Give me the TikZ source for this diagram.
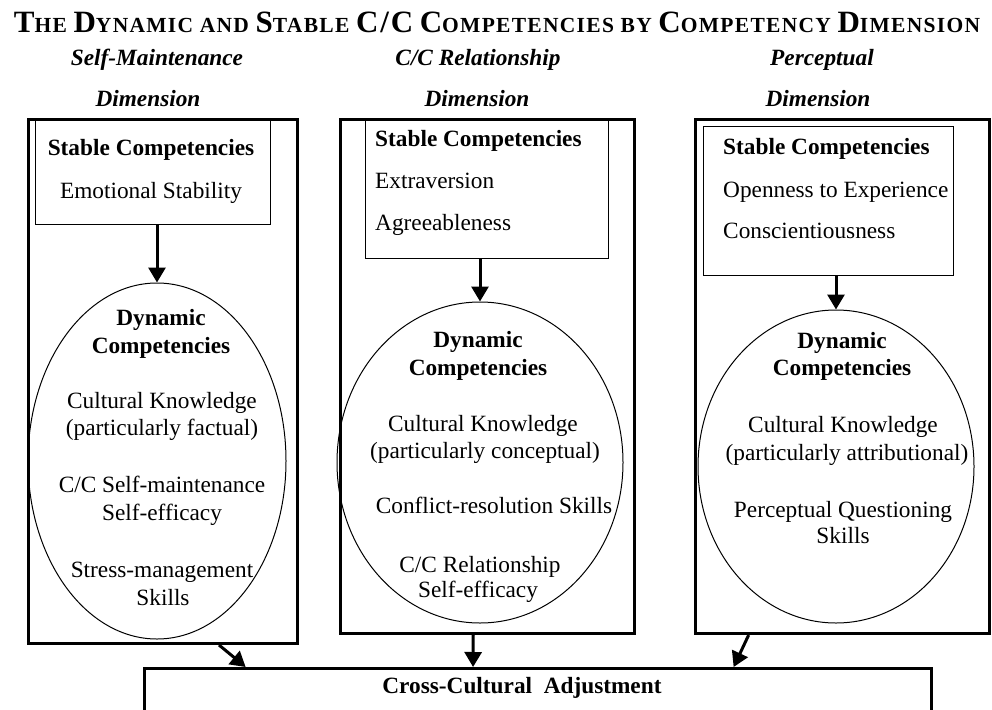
\documentclass[tikz,border=0pt]{standalone}
\usepackage{fontspec}
\setmainfont{Liberation Serif}
\usetikzlibrary{arrows.meta,shapes.geometric,calc}

% large initial capitals for the hand-made small-caps heading
\newcommand\headcap[1]{{\fontsize{31pt}{34pt}\selectfont #1}}

\tikzset{
  outerbox/.style={draw, line width=3pt, rectangle, inner sep=0pt, anchor=north west},
  stablebox/.style={draw, line width=1.3pt, rectangle, inner sep=0pt, anchor=north west},
  dynell/.style={draw, line width=1pt, ellipse, inner sep=0pt},
  adjbox/.style={draw, line width=2.6pt, rectangle, inner sep=0pt, anchor=north west},
  txt/.style={font=\fontsize{23.3pt}{28pt}\selectfont, inner sep=0pt, anchor=base},
  txtl/.style={txt, anchor=base west},
  bold/.style={txt, font=\fontsize{23.3pt}{28pt}\selectfont\bfseries},
  boldl/.style={bold, anchor=base west},
  head/.style={txt, font=\fontsize{23.3pt}{28pt}\selectfont\bfseries\itshape},
  arr/.style={line width=3pt, -{Triangle[length=15pt,width=17pt]}},
}

\begin{document}
\begin{tikzpicture}[x=1pt,y=-1pt]
\useasboundingbox (0,0) rectangle (992,709);
\clip (0,0) rectangle (992,709);

% heading
\node[txt, font=\fontsize{21.5pt}{24pt}\selectfont\bfseries\addfontfeature{LetterSpace=6}] (title) at (497,33)
  {\headcap{T}HE \headcap{D}YNAMIC AND \headcap{S}TABLE \headcap{C/C} \headcap{C}OMPETENCIES BY \headcap{C}OMPETENCY \headcap{D}IMENSION};

% column headings
\node[head] (hL1) at (157,65) {Self-Maintenance};
\node[head] (hL2) at (148,106) {Dimension};
\node[head] (hM1) at (478,65) {C/C Relationship};
\node[head] (hM2) at (477,106) {Dimension};
\node[head] (hR1) at (822,65) {Perceptual};
\node[head] (hR2) at (818,106) {Dimension};

% dimension frames
\node[outerbox, minimum width=269pt, minimum height=524pt] (oL) at (27,118) {};
\node[outerbox, minimum width=294pt, minimum height=514pt] (oM) at (339,118) {};
\node[outerbox, minimum width=294pt, minimum height=514pt] (oR) at (694,118) {};

% stable competencies
\node[stablebox, minimum width=235pt, minimum height=105pt] (sL) at (35,119) {};
\node[stablebox, minimum width=243pt, minimum height=140pt] (sM) at (365,118) {};
\node[stablebox, minimum width=250pt, minimum height=149pt] (sR) at (703,126) {};

\node[bold] (sL1) at (151,155) {Stable Competencies};
\node[txt]  (sL2) at (151,198) {Emotional Stability};

\node[boldl] (sM1) at (375,146) {Stable Competencies};
\node[txtl]  (sM2) at (375,188) {Extraversion};
\node[txtl]  (sM3) at (375,230) {Agreeableness};

\node[boldl] (sR1) at (723,154) {Stable Competencies};
\node[txtl]  (sR2) at (723,197) {Openness to Experience};
\node[txtl]  (sR3) at (723,238) {Conscientiousness};

% dynamic competencies
\node[dynell, minimum width=258pt, minimum height=356pt] (dL) at (157,461) {};
\node[dynell, minimum width=286pt, minimum height=321pt] (dM) at (480,462.5) {};
\node[dynell, minimum width=276pt, minimum height=313pt] (dR) at (836,466.5) {};

\node[bold] (dL1) at (161,325) {Dynamic};
\node[bold] (dL2) at (161,353) {Competencies};
\node[txt]  (dL3) at (162,408) {Cultural Knowledge};
\node[txt]  (dL4) at (162,435) {(particularly factual)};
\node[txt]  (dL5) at (162,492) {C/C Self-maintenance};
\node[txt]  (dL6) at (162,520) {Self-efficacy};
\node[txt]  (dL7) at (162,577) {Stress-management};
\node[txt]  (dL8) at (163,605) {Skills};

\node[bold] (dM1) at (478,347) {Dynamic};
\node[bold] (dM2) at (478,375) {Competencies};
\node[txt]  (dM3) at (483,431) {Cultural Knowledge};
\node[txt]  (dM4) at (485,458) {(particularly conceptual)};
\node[txt]  (dM5) at (494,513) {Conflict-resolution Skills};
\node[txt]  (dM6) at (480,572) {C/C Relationship};
\node[txt]  (dM7) at (478,597) {Self-efficacy};

\node[bold] (dR1) at (842,348) {Dynamic};
\node[bold] (dR2) at (842,375) {Competencies};
\node[txt]  (dR3) at (843,432) {Cultural Knowledge};
\node[txt]  (dR4) at (847,460) {(particularly attributional)};
\node[txt]  (dR5) at (843,517) {Perceptual Questioning};
\node[txt]  (dR6) at (843,543) {Skills};

% outcome
\node[adjbox, minimum width=787pt, minimum height=90pt] (adj) at (143,667) {};
\node[bold] (adjt) at (522,693) {Cross-Cultural\ \ Adjustment};

% stable -> dynamic
\draw[arr] (dL.north |- sL.south) -- (dL.north);
\draw[arr] (dM.north |- sM.south) -- (dM.north);
\draw[arr] (dR.north |- sR.south) -- (dR.north);

% dimensions -> adjustment
\draw[arr] ($(oL.south west)!0.706!(oL.south east)$) -- ($(adj.north west)!0.13!(adj.north east)$);
\draw[arr] ($(oM.south west)!0.452!(oM.south east)$) -- ($(adj.north west)!0.418!(adj.north east)$);
\draw[arr] ($(oR.south west)!0.184!(oR.south east)$) -- ($(adj.north west)!0.748!(adj.north east)$);
\end{tikzpicture}
\end{document}
